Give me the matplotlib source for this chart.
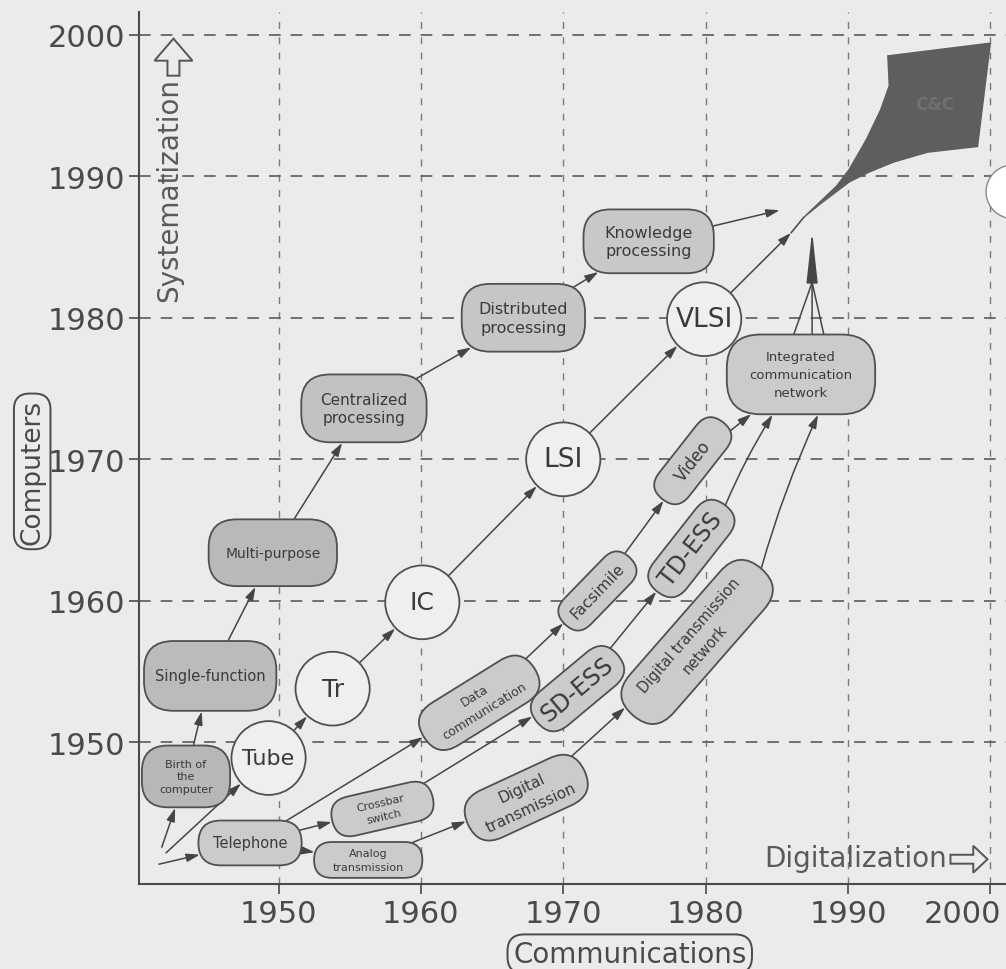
import numpy as np
import matplotlib.pyplot as plt
import matplotlib.patches as mpatches
from matplotlib.transforms import Affine2D, ScaledTranslation

# ---- data: node labels and centres (x = communications year, y = computers year)
comp_labels = ['Birth of\nthe\ncomputer', 'Single-function', 'Multi-purpose',
               'Centralized\nprocessing', 'Distributed\nprocessing', 'Knowledge\nprocessing']
comp_x = [1943.5, 1945.2, 1949.6, 1956.0, 1967.2, 1976.0]
comp_y = [1947.6, 1954.7, 1963.4, 1973.6, 1980.0, 1985.4]

tech_labels = ['Tube', 'Tr', 'IC', 'LSI', 'VLSI']
tech_x = [1949.3, 1953.8, 1960.1, 1970.0, 1979.9]
tech_y = [1948.9, 1953.8, 1959.9, 1970.0, 1979.9]

comm_labels = ['Telephone', 'Crossbar\nswitch', 'Analog\ntransmission', 'Data\ncommunication',
               'Digital\ntransmission', 'SD-ESS', 'Facsimile', 'TD-ESS', 'Video',
               'Digital transmission\nnetwork', 'Integrated\ncommunication\nnetwork']
comm_x = [1948.0, 1957.3, 1956.3, 1964.1, 1967.4, 1971.0, 1972.4, 1979.0, 1979.1, 1979.4, 1986.7]
comm_y = [1942.9, 1945.3, 1941.7, 1952.8, 1946.1, 1953.8, 1960.7, 1963.7, 1969.9, 1957.1, 1976.0]

# start points of the three branches, and free end points
start_x = [1941.8, 1942.1, 1941.6]
start_y = [1942.6, 1942.2, 1941.4]
knowledge_end = (1985.2, 1987.6)
vlsi_end = (1986.0, 1986.0)
icn_tops_x = [1986.15, 1987.48, 1988.33]
icn_top_y = 1978.7
icn_join = (1987.48, 1982.5)
icn_tip = (1987.48, 1986.1)
icn_in_x = [1984.7, 1987.9]     # where TD-ESS and the transmission network enter
icn_in_y = 1973.15

# C&C kite outline
kite_x = [1986.9, 1989.2, 1990.1, 1991.3, 1992.3, 1992.9, 1992.8, 2000.0, 1999.1,
          1995.6, 1993.2, 1991.5, 1990.1, 1988.0]
kite_y = [1987.1, 1989.3, 1990.5, 1992.6, 1994.7, 1996.4, 1998.5, 1999.4, 1992.1,
          1991.7, 1991.0, 1990.3, 1989.6, 1988.0]

# links between nodes
comp_chain = comp_labels
tech_chain = tech_labels
comm_links = [('Telephone', 'Crossbar\nswitch'), ('Telephone', 'Analog\ntransmission'),
              ('Telephone', 'Data\ncommunication'), ('Crossbar\nswitch', 'SD-ESS'),
              ('Analog\ntransmission', 'Digital\ntransmission'),
              ('Data\ncommunication', 'Facsimile'), ('SD-ESS', 'TD-ESS'),
              ('Digital\ntransmission', 'Digital transmission\nnetwork'),
              ('Facsimile', 'Video'), ('Video', 'Integrated\ncommunication\nnetwork')]
icn_feeds = ['TD-ESS', 'Digital transmission\nnetwork']

# ---- styles
PX = 1 / 14.2   # one pixel in years
BG = '#ebebe9'
EDGE = '#505050'
LINE = '#454545'
TXT = '#3a3a3a'
comp_size = [(88, 62), (132, 70), (128, 67), (125, 68), (123, 68), (130, 64)]
comp_fc = ['#b7b7b5', '#bbbbb9', '#b9b9b7', '#c2c2c0', '#c6c6c4', '#c8c8c6']
comp_fs = [8, 10.5, 10, 11, 11.5, 11.5]
tech_fs = [16, 18, 18, 19, 19]
comm_style = [(103, 45, 0, 10.5), (103, 40, 13, 8), (108, 36, 0, 8), (130, 50, 32, 9),
              (128, 52, 25, 11), (105, 44, 40, 17), (93, 37, 46, 11), (110, 42, 52, 17),
              (98, 38, 52, 12), (195, 58, 49, 10.5), (148, 80, 0, 9.5)]
HEAD = '-|>,head_length=0.8,head_width=0.25'

plt.rcParams['font.family'] = ['DejaVu Sans']

fig = plt.figure(figsize=(10.06, 9.70), dpi=100, facecolor=BG)
ax = fig.add_axes([139 / 1006, 85 / 970, 867 / 1006, 872 / 970], facecolor=BG)
ax.set_xlim(1940.2, 2001.1)
ax.set_ylim(1940.0, 2001.6)

ticks = [1950, 1960, 1970, 1980, 1990, 2000]
ax.set_xticks(ticks)
ax.set_yticks(ticks)
ax.tick_params(direction='out', length=7, width=1.2, colors='#4a4a4a', labelsize=22, pad=3)
ax.tick_params(axis='x', pad=4)
last = ax.xaxis.get_major_ticks()[-1].label1
last.set_horizontalalignment('right')
last.set_transform(last.get_transform() + ScaledTranslation(0.11, 0, fig.dpi_scale_trans))
ax.xaxis.grid(True, ls=(0, (5, 6)), color='#7a7a7a', lw=1.0)
ax.yaxis.grid(True, ls=(0, (7, 6)), color='#5a5a5a', lw=1.2)
for s in ['top', 'right']:
    ax.spines[s].set_visible(False)
for s in ['left', 'bottom']:
    ax.spines[s].set_color('#4a4a4a')
    ax.spines[s].set_linewidth(1.5)

nodes = {}


def box(cx, cy, w, h, ang, rs, fc):
    p = mpatches.FancyBboxPatch((cx - w / 2, cy - h / 2), w, h,
                                boxstyle=f'round,pad=0,rounding_size={rs}',
                                fc=fc, ec=EDGE, lw=1.3, zorder=3)
    p.set_transform(Affine2D().rotate_deg_around(cx, cy, ang) + ax.transData)
    ax.add_patch(p)
    return p


# computer branch
for lab, x, y, (w, h), fc, fs in zip(comp_labels, comp_x, comp_y, comp_size, comp_fc, comp_fs):
    p = box(x, y, w * PX, h * PX, 0, 0.42 * h * PX, fc)
    ax.text(x, y, lab, ha='center', va='center', fontsize=fs, color=TXT,
            linespacing=1.3, zorder=4)
    nodes[lab] = ((x, y), p)

# device branch
for lab, x, y, fs in zip(tech_labels, tech_x, tech_y, tech_fs):
    p = mpatches.Circle((x, y), 37 * PX, fc='#efefed', ec=EDGE, lw=1.3, zorder=3)
    ax.add_patch(p)
    ax.text(x, y, lab, ha='center', va='center', fontsize=fs, color=TXT, zorder=4)
    nodes[lab] = ((x, y), p)

# communication branch
tips = {}
for lab, x, y, (L, H, ang, fs) in zip(comm_labels, comm_x, comm_y, comm_style):
    rs = 0.42 * H * PX if lab.startswith('Integrated') else H * PX / 2
    p = box(x, y, L * PX, H * PX, ang, rs, '#cbcbc9')
    ax.text(x, y, lab, ha='center', va='center', rotation=ang, rotation_mode='anchor',
            fontsize=fs, color=TXT, linespacing=1.5, zorder=4)
    nodes[lab] = ((x, y), p)
    a = np.radians(ang)
    tips[lab] = (x + L / 2 * PX * np.cos(a), y + L / 2 * PX * np.sin(a))


def link(a, b, rad=0.0, style=HEAD):
    pa, sa = nodes[a] if isinstance(a, str) else (a, None)
    pb, sb = nodes[b] if isinstance(b, str) else (b, None)
    ax.add_patch(mpatches.FancyArrowPatch(pa, pb, patchA=sa, patchB=sb, shrinkA=0, shrinkB=0,
                                          arrowstyle=style, connectionstyle=f'arc3,rad={rad}',
                                          color=LINE, lw=1.1, mutation_scale=10, zorder=2))


link((start_x[0], start_y[0]), comp_chain[0])
link((start_x[1], start_y[1]), tech_chain[0])
link((start_x[2], start_y[2]), 'Telephone')
for a, b in zip(comp_chain[:-1], comp_chain[1:]):
    link(a, b)
for a, b in zip(tech_chain[:-1], tech_chain[1:]):
    link(a, b)
for a, b in comm_links:
    link(a, b)
for src, xe in zip(icn_feeds, icn_in_x):
    link(tips[src], (xe, icn_in_y), rad=-0.04)
link(comp_chain[-1], knowledge_end)
link(tech_chain[-1], vlsi_end)
link(vlsi_end, (kite_x[0], kite_y[0]), style='-')
for x in icn_tops_x:
    link((x, icn_top_y), icn_join, style='-')
link(icn_join, icn_tip, style='-|>,head_length=3.2,head_width=0.35')

# C&C kite
ax.fill(kite_x, kite_y, color='#5e5e5e', zorder=4)
ax.text(1996.1, 1995.1, 'C&C', ha='center', va='center', fontsize=12, fontweight='bold',
        color='#707070', zorder=5)
ax.add_patch(mpatches.Circle((2001.6, 1988.9), 1.9, fc='white', ec='#888888', lw=1.0,
                             zorder=2.5, clip_on=False))

# direction arrows and labels inside the axes
ax.text(1942.33, 1989.1, 'Systematization', rotation=90, ha='center', va='center',
        fontsize=20, color='#5a5a5a')
ax.add_patch(mpatches.FancyArrow(1942.62, 1997.1, 0, 2.62, width=0.84, head_width=2.67,
                                 head_length=1.56, length_includes_head=True,
                                 fc='none', ec='#555555', lw=1.4))
ax.text(1996.95, 1941.87, 'Digitalization', ha='right', va='center', fontsize=20,
        color='#5a5a5a')
ax.add_patch(mpatches.FancyArrow(1997.2, 1941.75, 2.6, 0, width=0.63, head_width=1.9,
                                 head_length=1.0, length_includes_head=True,
                                 fc='none', ec='#555555', lw=1.4))

# framed axis titles
frame = dict(boxstyle='round,pad=0.2,rounding_size=0.6', fc='none', ec='#4a4a4a', lw=1.4)
fig.text(0.032, 0.513, 'Computers', rotation=90, ha='center', va='center', fontsize=19,
         color='#4a4a4a', bbox=frame)
fig.text(0.626, 0.0155, 'Communications', ha='center', va='center', fontsize=20,
         color='#4a4a4a', bbox=frame)

fig.savefig('out.png', dpi=100, facecolor=BG)
